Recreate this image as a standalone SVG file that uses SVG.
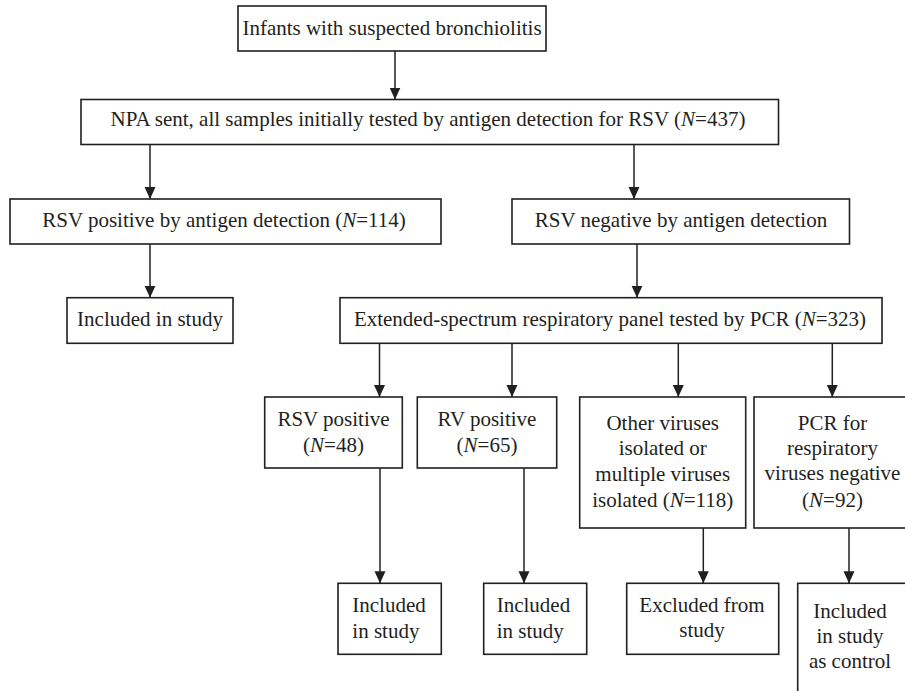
<svg xmlns="http://www.w3.org/2000/svg" width="905" height="691" viewBox="0 0 905 691">
<defs>
<marker id="arr" markerUnits="userSpaceOnUse" markerWidth="12" markerHeight="12" viewBox="0 0 12 11" refX="12" refY="5.5" orient="auto">
<path d="M0,0 L12,5.5 L0,11 z" fill="#231f20"/>
</marker>
<style>
rect{fill:#fff;stroke:#231f20;stroke-width:1.6}
text{font-family:"Liberation Serif","Times New Roman",serif;font-size:21px;fill:#231f20}
.c{text-anchor:middle}
.e line{stroke:#231f20;stroke-width:1.5;marker-end:url(#arr)}
</style>
</defs>
<rect x="0" y="0" width="905" height="691" style="fill:#fff;stroke:none"/>
<g class="e" id="connectors">
<line x1="395" y1="51" x2="395" y2="99.5"/>
<line x1="150" y1="144.5" x2="150" y2="199"/>
<line x1="634" y1="144.5" x2="634" y2="199"/>
<line x1="150" y1="244" x2="150" y2="297.7"/>
<line x1="637" y1="244" x2="637" y2="297.7"/>
<line x1="379.5" y1="343.3" x2="379.5" y2="397"/>
<line x1="512" y1="343.3" x2="512" y2="397"/>
<line x1="678.3" y1="343.3" x2="678.3" y2="397"/>
<line x1="832.3" y1="343.3" x2="832.3" y2="397"/>
<line x1="380" y1="468" x2="380" y2="583.3"/>
<line x1="524" y1="468" x2="524" y2="583.3"/>
<line x1="703.3" y1="528" x2="703.3" y2="583.3"/>
<line x1="849" y1="528" x2="849" y2="583.3"/>
</g>
<g id="n-infants">
<rect x="238" y="6" width="308" height="45"/>
<text class="c" x="392" y="34.5">Infants with suspected bronchiolitis</text>
</g>
<g id="n-npa">
<rect x="81" y="99.5" width="697.5" height="45"/>
<text class="c" x="428" y="126">NPA sent, all samples initially tested by antigen detection for RSV (<tspan font-style="italic">N</tspan>=437)</text>
</g>
<g id="n-rsvpos-ag">
<rect x="10" y="199" width="431" height="45"/>
<text class="c" x="224" y="226.7">RSV positive by antigen detection (<tspan font-style="italic">N</tspan>=114)</text>
</g>
<g id="n-rsvneg-ag">
<rect x="512" y="199" width="337.5" height="45"/>
<text class="c" x="681" y="226.7">RSV negative by antigen detection</text>
</g>
<g id="n-included-ag">
<rect x="67" y="297.7" width="166" height="45.6"/>
<text class="c" x="150" y="326">Included in study</text>
</g>
<g id="n-extended">
<rect x="340" y="297.7" width="542" height="45.6"/>
<text class="c" x="610" y="326">Extended-spectrum respiratory panel tested by PCR (<tspan font-style="italic">N</tspan>=323)</text>
</g>
<g id="n-rsvpos-pcr">
<rect x="264.7" y="397" width="137.6" height="71"/>
<text class="c" x="333.5" y="426">RSV positive</text>
<text class="c" x="333.5" y="451.7">(<tspan font-style="italic">N</tspan>=48)</text>
</g>
<g id="n-rvpos">
<rect x="417.3" y="397" width="139.4" height="71"/>
<text class="c" x="487" y="426">RV positive</text>
<text class="c" x="487" y="451.7">(<tspan font-style="italic">N</tspan>=65)</text>
</g>
<g id="n-other">
<rect x="579.7" y="397" width="166" height="131"/>
<text class="c" x="662.7" y="430">Other viruses</text>
<text class="c" x="662.7" y="455">isolated or</text>
<text class="c" x="662.7" y="480.7">multiple viruses</text>
<text class="c" x="662.7" y="506.7">isolated (<tspan font-style="italic">N</tspan>=118)</text>
</g>
<g id="n-pcrneg">
<rect x="754" y="397" width="160" height="131"/>
<text class="c" x="832.5" y="430">PCR for</text>
<text class="c" x="832.5" y="454.5">respiratory</text>
<text class="c" x="832.5" y="480">viruses negative</text>
<text class="c" x="832.5" y="506.7">(<tspan font-style="italic">N</tspan>=92)</text>
</g>
<g id="n-incl1">
<rect x="338" y="583.3" width="103.3" height="71"/>
<text x="352.3" y="612.3">Included</text>
<text x="352.3" y="638.3">in study</text>
</g>
<g id="n-incl2">
<rect x="483.7" y="583.3" width="103" height="71"/>
<text x="496.7" y="612.3">Included</text>
<text x="496.7" y="638.3">in study</text>
</g>
<g id="n-excluded">
<rect x="626.7" y="583.3" width="152" height="71"/>
<text class="c" x="702" y="611.7">Excluded from</text>
<text class="c" x="702" y="636.7">study</text>
</g>
<g id="n-control">
<rect x="797.7" y="583.3" width="120" height="120"/>
<text class="c" x="850" y="617.5">Included</text>
<text class="c" x="850" y="643">in study</text>
<text class="c" x="850" y="667.5">as control</text>
</g>
</svg>
